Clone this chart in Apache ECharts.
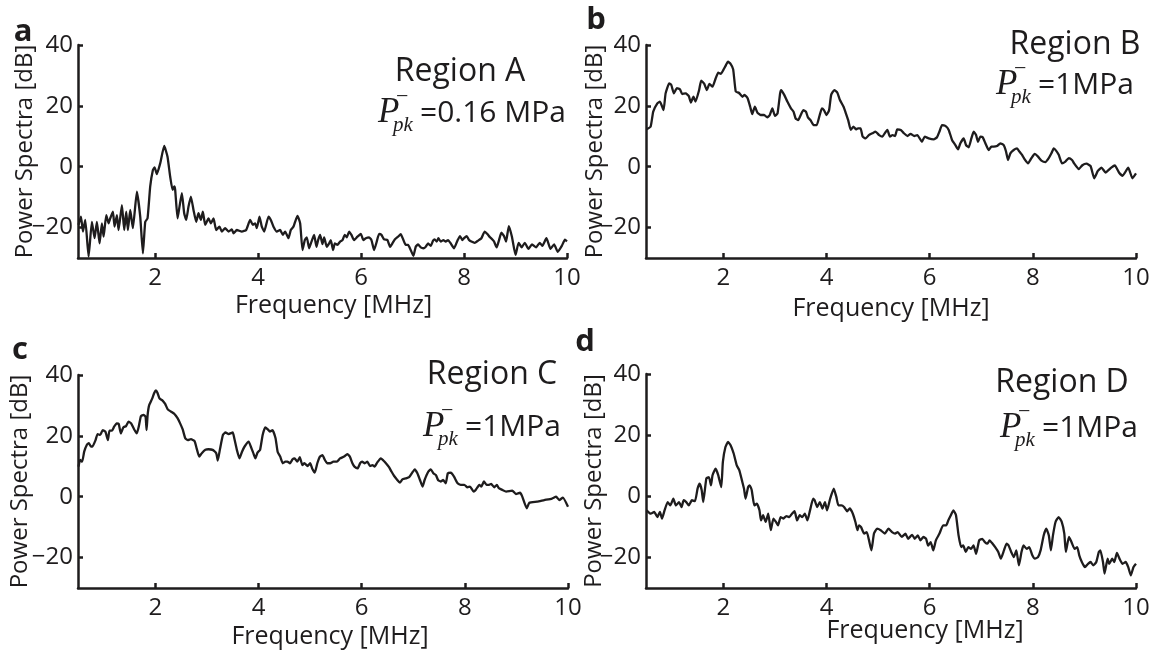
<!DOCTYPE html>
<html>
<head>
<meta charset="utf-8">
<script src="https://cdn.jsdelivr.net/npm/echarts@6/dist/echarts.min.js"></script>
<style>
  html, body { margin: 0; padding: 0; background: #fff; }
  #chart { width: 1176px; height: 660px; }
</style>
</head>
<body>
<div id="chart"></div>
<script>
// tick positions shared by all four panels
const freqTicks = [2, 4, 6, 8, 10];
const powerTicks = [-20, 0, 20, 40];

// panel a - Region A, 0.16 MPa
const freqA = [0.51,0.557,0.596,0.641,0.706,0.77,0.822,0.867,0.919,0.964,0.997,1.049,1.094,1.126,1.178,1.21,1.256,1.288,1.353,1.398,1.437,1.469,1.515,1.566,1.644,1.709,1.761,1.806,1.851,1.903,1.955,1.987,2.032,2.097,2.175,2.239,2.291,2.337,2.369,2.388,2.434,2.472,2.518,2.563,2.602,2.647,2.693,2.744,2.796,2.841,2.887,2.926,2.971,3.036,3.081,3.133,3.184,3.249,3.294,3.359,3.424,3.489,3.521,3.586,3.683,3.767,3.845,3.896,3.942,3.974,4.026,4.071,4.117,4.201,4.246,4.298,4.362,4.427,4.479,4.524,4.589,4.634,4.686,4.718,4.764,4.816,4.861,4.906,4.945,4.99,5.036,5.087,5.133,5.165,5.204,5.249,5.282,5.333,5.379,5.411,5.456,5.489,5.54,5.592,5.638,5.683,5.722,5.767,5.812,5.864,5.929,5.994,6.045,6.091,6.155,6.201,6.252,6.304,6.35,6.395,6.447,6.511,6.563,6.608,6.654,6.718,6.77,6.822,6.867,6.913,6.964,7.016,7.061,7.107,7.159,7.21,7.256,7.301,7.353,7.398,7.43,7.469,7.502,7.547,7.599,7.644,7.689,7.741,7.806,7.871,7.922,7.968,8.0,8.052,8.097,8.142,8.207,8.272,8.337,8.401,8.453,8.505,8.55,8.583,8.634,8.68,8.725,8.777,8.816,8.87,8.93,9.0,9.06,9.12,9.18,9.25,9.32,9.4,9.47,9.52,9.6,9.68,9.75,9.82,9.9,9.96,10.0];
const powerA = [-19.1,-16.4,-21.3,-17.5,-29.5,-18.1,-23.5,-18.1,-25.2,-18.6,-23.0,-15.9,-18.6,-17.0,-14.8,-19.7,-15.9,-20.8,-12.6,-20.8,-14.8,-20.8,-14.2,-20.2,-8.2,-16.4,-28.5,-18.1,-17.0,-6.5,-1.1,-0.2,-2.4,1.1,6.8,3.3,-3.3,-7.6,-6.5,-7.6,-17.0,-13.1,-8.7,-15.3,-17.5,-13.1,-9.8,-14.2,-18.1,-15.3,-17.5,-14.8,-19.1,-17.0,-18.6,-17.0,-20.8,-19.7,-21.3,-20.2,-21.3,-20.6,-21.9,-20.8,-21.3,-20.8,-17.5,-19.1,-18.6,-20.2,-16.4,-19.7,-21.3,-16.4,-17.5,-19.7,-21.3,-20.8,-22.4,-21.3,-23.5,-20.8,-19.7,-18.1,-16.2,-18.6,-27.4,-24.1,-23.2,-26.8,-24.6,-22.4,-26.3,-24.1,-22.4,-25.4,-23.2,-26.3,-25.2,-24.1,-27.4,-25.2,-25.7,-24.6,-24.1,-22.4,-23.2,-21.3,-22.4,-24.1,-23.0,-22.1,-24.1,-23.5,-23.2,-24.1,-27.4,-24.6,-22.1,-22.4,-23.9,-24.1,-26.3,-25.2,-23.9,-23.0,-22.2,-24.1,-25.7,-25.7,-27.4,-29.3,-26.3,-25.5,-26.5,-26.8,-26.3,-25.2,-26.0,-24.3,-23.9,-24.6,-23.5,-24.6,-24.1,-24.6,-24.1,-25.2,-26.8,-24.3,-22.8,-24.1,-23.5,-22.8,-24.1,-24.6,-25.0,-24.3,-23.5,-21.3,-22.1,-23.2,-23.9,-24.6,-26.5,-24.1,-21.7,-22.8,-24.6,-19.5,-23.0,-29.0,-25.0,-26.5,-25.0,-27.0,-25.5,-26.5,-25.0,-26.0,-23.5,-27.0,-25.5,-28.0,-26.0,-24.0,-24.5];

// panel b - Region B, 1 MPa
const freqB = [0.51,0.59,0.64,0.72,0.77,0.84,0.88,0.95,0.99,1.04,1.1,1.16,1.2,1.27,1.33,1.37,1.42,1.46,1.53,1.57,1.63,1.68,1.73,1.79,1.85,1.9,1.95,2.0,2.05,2.09,2.14,2.19,2.24,2.3,2.37,2.41,2.47,2.52,2.56,2.61,2.66,2.72,2.79,2.85,2.9,2.95,3.0,3.05,3.1,3.12,3.18,3.24,3.31,3.36,3.4,3.45,3.5,3.55,3.6,3.64,3.69,3.75,3.81,3.86,3.91,3.95,4.0,4.05,4.09,4.15,4.21,4.26,4.33,4.37,4.42,4.47,4.52,4.57,4.61,4.66,4.7,4.76,4.82,4.89,4.95,5.02,5.08,5.15,5.18,5.23,5.28,5.33,5.37,5.44,5.5,5.57,5.63,5.7,5.76,5.85,5.903,5.981,6.078,6.142,6.188,6.239,6.304,6.369,6.433,6.498,6.55,6.595,6.66,6.705,6.757,6.808,6.853,6.899,6.937,6.983,7.028,7.08,7.144,7.196,7.241,7.306,7.37,7.435,7.48,7.519,7.564,7.629,7.694,7.739,7.791,7.842,7.907,7.972,8.036,8.101,8.166,8.243,8.308,8.36,8.405,8.45,8.502,8.566,8.631,8.696,8.76,8.8,8.89,8.96,9.04,9.12,9.19,9.26,9.33,9.41,9.52,9.59,9.67,9.74,9.85,9.93,10.0];
const powerB = [12.3,13.2,18.1,20.8,21.4,18.6,24.1,27.4,26.9,24.1,25.8,25.4,23.9,24.1,23.2,21.1,23.0,21.4,25.2,28.3,27.2,25.2,27.2,26.3,29.0,30.9,30.5,31.8,33.4,34.5,33.8,32.0,24.7,24.3,23.0,23.6,22.5,19.7,17.3,19.7,17.8,17.0,17.0,16.2,17.0,19.2,16.7,17.5,24.1,25.2,23.6,21.4,19.2,18.1,15.9,15.3,17.0,18.6,18.1,16.2,15.3,13.7,13.7,16.5,19.2,18.6,17.0,18.6,23.6,25.2,24.3,21.9,19.7,17.8,15.3,12.1,13.2,12.3,12.6,12.6,9.9,9.3,10.4,11.0,11.5,10.4,9.9,11.5,12.1,9.9,10.4,10.1,12.3,12.1,11.0,10.1,10.8,10.1,10.4,8.2,9.9,9.3,9.0,9.7,11.5,13.7,13.4,12.1,8.8,7.1,5.7,7.7,9.3,7.1,6.4,9.3,11.5,10.4,8.2,9.9,9.7,7.7,5.5,6.6,6.6,6.8,7.7,7.1,5.0,2.2,4.4,5.5,6.0,5.0,3.9,2.4,1.1,2.8,4.2,3.3,2.0,1.5,2.8,4.4,6.0,5.3,3.9,1.1,1.7,2.8,2.2,1.1,-0.8,0.5,1.0,0.2,-3.8,-1.4,-0.3,-1.9,-0.3,0.4,-1.9,-3.0,-0.3,-3.8,-2.2];

// panel c - Region C, 1 MPa
const freqC = [0.51,0.54,0.58,0.62,0.67,0.71,0.75,0.78,0.84,0.88,0.93,0.98,1.03,1.08,1.11,1.16,1.2,1.25,1.29,1.33,1.38,1.43,1.48,1.53,1.59,1.64,1.68,1.72,1.77,1.81,1.83,1.85,1.88,1.94,1.98,2.01,2.04,2.08,2.14,2.19,2.24,2.3,2.37,2.43,2.48,2.53,2.58,2.63,2.69,2.76,2.8,2.85,2.9,2.97,3.03,3.11,3.18,3.21,3.25,3.31,3.36,3.42,3.5,3.53,3.58,3.63,3.68,3.73,3.81,3.85,3.9,3.94,3.98,4.03,4.08,4.13,4.18,4.22,4.27,4.33,4.37,4.42,4.47,4.52,4.56,4.61,4.66,4.7,4.75,4.8,4.85,4.89,4.95,5.0,5.04,5.09,5.14,5.19,5.24,5.28,5.33,5.39,5.45,5.52,5.58,5.66,5.72,5.77,5.82,5.86,5.92,5.97,6.01,6.06,6.11,6.16,6.21,6.25,6.3,6.37,6.42,6.47,6.53,6.58,6.63,6.69,6.74,6.79,6.85,6.92,6.98,7.03,7.08,7.13,7.18,7.22,7.29,7.34,7.39,7.44,7.48,7.53,7.58,7.63,7.67,7.73,7.79,7.86,7.92,7.99,8.05,8.1,8.17,8.21,8.28,8.32,8.37,8.42,8.47,8.51,8.57,8.62,8.66,8.73,8.8,8.92,8.99,9.07,9.11,9.2,9.25,9.4,9.54,9.69,9.77,9.83,9.9,10.0];
const powerC = [9.9,12.1,11.5,14.8,17.0,17.6,16.5,16.5,18.6,20.6,20.3,21.9,21.4,18.6,21.7,21.7,23.0,24.1,23.9,20.8,22.8,23.2,24.7,24.1,22.1,20.8,23.2,26.5,26.9,26.3,21.9,26.9,30.1,32.3,34.2,34.9,34.2,32.3,31.6,30.5,28.7,28.0,27.2,25.8,24.1,22.1,19.2,18.6,18.9,18.3,15.9,13.2,14.3,15.4,15.6,15.4,14.3,11.9,15.4,20.3,21.1,20.6,21.1,19.2,15.4,12.6,14.8,16.5,18.1,16.5,14.3,12.6,14.5,15.4,20.3,22.8,22.1,21.4,21.9,19.2,14.8,13.2,11.0,11.5,11.5,11.0,12.3,12.6,11.5,13.0,10.4,11.0,10.1,11.0,9.3,7.9,11.0,13.2,13.7,12.3,11.0,11.0,11.5,11.5,12.6,13.2,14.0,13.2,11.0,9.9,9.3,11.0,11.5,11.0,11.5,10.1,10.4,9.9,11.2,12.6,11.9,11.0,9.7,8.2,6.8,5.5,4.6,5.7,6.0,6.4,7.9,9.0,7.7,5.5,3.3,5.5,8.2,9.0,7.7,7.1,5.5,5.0,5.5,4.4,7.7,7.9,6.6,4.4,3.9,3.9,3.1,3.3,1.7,2.2,3.9,3.3,5.0,3.9,3.9,4.2,3.1,3.9,2.8,2.2,1.7,2.0,0.9,1.3,0.2,-3.8,-2.0,-1.6,-1.1,-0.6,0.0,-1.1,-0.3,-3.3];

// panel d - Region D, 1 MPa
const freqD = [0.51,0.59,0.66,0.72,0.77,0.81,0.86,0.92,0.97,1.03,1.08,1.14,1.19,1.23,1.28,1.33,1.39,1.45,1.5,1.54,1.58,1.61,1.67,1.72,1.76,1.79,1.85,1.9,1.96,1.99,2.04,2.09,2.14,2.2,2.26,2.31,2.36,2.4,2.43,2.48,2.51,2.55,2.6,2.65,2.7,2.73,2.77,2.82,2.87,2.92,2.97,3.02,3.06,3.11,3.16,3.22,3.28,3.33,3.38,3.43,3.48,3.53,3.58,3.63,3.68,3.74,3.77,3.82,3.87,3.92,3.97,4.01,4.07,4.14,4.19,4.23,4.29,4.34,4.4,4.45,4.51,4.56,4.6,4.63,4.67,4.73,4.78,4.82,4.87,4.92,4.98,5.05,5.13,5.2,5.27,5.33,5.38,5.46,5.53,5.58,5.66,5.71,5.77,5.82,5.88,5.93,5.97,6.02,6.07,6.12,6.19,6.26,6.32,6.36,6.41,6.46,6.51,6.56,6.61,6.65,6.7,6.75,6.8,6.85,6.9,6.96,7.02,7.07,7.12,7.16,7.22,7.27,7.33,7.38,7.44,7.49,7.53,7.58,7.63,7.68,7.73,7.78,7.82,7.88,7.93,7.99,8.04,8.1,8.15,8.21,8.26,8.31,8.35,8.39,8.44,8.5,8.56,8.61,8.64,8.7,8.75,8.81,8.86,8.9,8.95,9.01,9.07,9.12,9.17,9.23,9.28,9.31,9.36,9.39,9.45,9.48,9.54,9.58,9.63,9.68,9.74,9.8,9.85,9.9,9.95,10.0];
const powerD = [-4.6,-5.7,-5.1,-6.8,-5.1,-7.3,-4.6,-1.9,-3.0,-0.8,-3.0,-1.9,-3.5,-1.3,-1.9,-3.0,-1.3,-1.6,2.5,4.1,2.0,-1.9,5.8,6.3,3.6,6.9,9.0,6.9,3.0,11.2,16.1,17.8,16.7,14.0,10.1,8.5,5.2,2.5,-0.8,3.0,3.6,2.0,-3.0,-2.4,-4.6,-7.9,-6.2,-8.4,-5.7,-11.1,-7.3,-8.4,-9.5,-6.8,-7.3,-6.5,-6.8,-5.7,-4.9,-7.9,-6.2,-6.8,-5.7,-7.9,-4.6,-0.8,-1.3,-3.5,-1.9,-4.0,-1.9,-4.6,-0.8,2.5,-0.2,-3.0,-3.0,-3.5,-4.9,-4.0,-5.7,-8.4,-11.1,-9.5,-10.1,-12.2,-11.7,-14.1,-17.7,-12.2,-10.6,-11.1,-12.2,-10.6,-11.7,-12.2,-11.7,-13.3,-12.2,-13.9,-12.6,-13.9,-12.8,-14.4,-13.3,-13.9,-16.1,-15.0,-17.7,-14.4,-12.2,-9.5,-9.5,-7.9,-6.2,-4.6,-6.2,-12.8,-16.6,-16.1,-18.2,-16.6,-17.2,-16.1,-18.8,-14.4,-13.9,-15.0,-15.5,-14.4,-15.5,-16.6,-18.2,-20.4,-17.7,-15.5,-16.1,-18.2,-19.9,-17.7,-22.6,-18.2,-16.1,-17.2,-16.6,-19.3,-20.4,-19.9,-17.7,-12.8,-10.6,-12.8,-17.7,-12.8,-8.4,-6.8,-8.4,-12.2,-18.2,-13.3,-15.0,-17.2,-16.6,-19.3,-21.5,-23.2,-22.1,-21.5,-22.6,-21.5,-18.2,-17.7,-21.5,-25.3,-20.4,-22.1,-20.4,-21.5,-18.5,-20.4,-22.1,-21.5,-23.2,-25.9,-23.2,-22.1];

const panels = [
  { letter: "a", region: "Region A", value: "=0.16 MPa", freq: freqA, power: powerA },
  { letter: "b", region: "Region B", value: "=1MPa", freq: freqB, power: powerB },
  { letter: "c", region: "Region C", value: "=1MPa", freq: freqC, power: powerC },
  { letter: "d", region: "Region D", value: "=1MPa", freq: freqD, power: powerD }
];

// layout of each panel (pixels)
const boxes = [
  { left: 78, top: 45, width: 489, height: 213, yGap: 41, xGap: 35, xShift: 11,
    letterX: 23, letterY: 32, regionX: 460, regionY: 72, pX: 378, pY: 113 },
  { left: 646, top: 45, width: 490, height: 213, yGap: 39, xGap: 38, xShift: 0,
    letterX: 596, letterY: 20, regionX: 1075, regionY: 45, pX: 996, pY: 85 },
  { left: 78, top: 375, width: 490, height: 213, yGap: 46, xGap: 36, xShift: 7,
    letterX: 20, letterY: 350, regionX: 492, regionY: 375, pX: 423, pY: 427 },
  { left: 646, top: 374, width: 490, height: 214, yGap: 40, xGap: 30, xShift: 34,
    letterX: 585, letterY: 342, regionX: 1062, regionY: 383, pX: 1000, pY: 428 }
];

const ink = "#1e1c1d";
const sans = "'Open Sans', 'Noto Sans', sans-serif";
const serif = "'Liberation Serif', 'DejaVu Serif', serif";

const grids = [], xAxes = [], yAxes = [], series = [], graphics = [];

panels.forEach((p, i) => {
  const b = boxes[i];
  grids.push({ left: b.left, top: b.top, width: b.width, height: b.height, containLabel: false, outerBoundsMode: "none" });
  xAxes.push({
    type: "value", gridIndex: i, min: 0.5, max: 10,
    name: "Frequency [MHz]", nameLocation: "middle", nameGap: b.xGap, nameMoveOverlap: false,
    nameTextStyle: { fontFamily: sans, fontSize: 25, color: ink, padding: [0, 0, 0, b.xShift * 2] },
    axisLine: { show: true, onZero: false, lineStyle: { color: ink, width: 2.5 } },
    axisTick: { show: true, inside: true, length: 5, customValues: freqTicks, lineStyle: { color: ink, width: 2.5 } },
    axisLabel: { show: true, customValues: freqTicks, margin: 8, fontFamily: sans, fontSize: 24, color: ink },
    splitLine: { show: false }
  });
  yAxes.push({
    type: "value", gridIndex: i, min: -30, max: 40,
    name: "Power Spectra [dB]", nameLocation: "middle", nameGap: b.yGap, nameMoveOverlap: false,
    nameTextStyle: { fontFamily: sans, fontSize: 24, color: ink },
    axisLine: { show: true, lineStyle: { color: ink, width: 2.5 } },
    axisTick: { show: true, inside: true, length: 5, customValues: powerTicks, lineStyle: { color: ink, width: 2.5 } },
    axisLabel: {
      show: true, customValues: powerTicks, margin: 5, fontFamily: sans, fontSize: 24, color: ink,
      formatter: v => (v < 0 ? "\u2212" + (-v) : String(v))
    },
    splitLine: { show: false }
  });
  series.push({
    type: "line", xAxisIndex: i, yAxisIndex: i,
    data: p.freq.map((f, k) => [f, p.power[k]]),
    showSymbol: false, smooth: 0.15,
    lineStyle: { color: ink, width: 2.3 },
    silent: true, animation: false
  });

  // panel letter
  graphics.push({
    type: "text", x: b.letterX, y: b.letterY,
    style: { text: p.letter, font: "bold 31px " + sans, fill: ink, align: "center", verticalAlign: "middle" }
  });
  // region title
  graphics.push({
    type: "text", x: b.regionX, y: b.regionY,
    style: { text: p.region, font: "32px " + sans, fill: ink, align: "center", verticalAlign: "middle" }
  });
  // P_pk^- = value
  graphics.push({
    type: "text", x: b.pX, y: b.pY,
    style: { text: "P", font: "italic 35px " + serif, fill: ink, align: "left", verticalAlign: "middle" }
  });
  graphics.push({
    type: "text", x: b.pX + 18, y: b.pY - 16,
    style: { text: "\u2212", font: "22px " + serif, fill: ink, align: "left", verticalAlign: "middle" }
  });
  graphics.push({
    type: "text", x: b.pX + 15, y: b.pY + 12,
    style: { text: "pk", font: "italic 21px " + serif, fill: ink, align: "left", verticalAlign: "middle" }
  });
  graphics.push({
    type: "text", x: b.pX + 42, y: b.pY,
    style: { text: p.value, font: "30px " + sans, fill: ink, align: "left", verticalAlign: "middle" }
  });
});

const chart = echarts.init(document.getElementById("chart"), null, { renderer: "canvas" });
chart.setOption({
  animation: false,
  backgroundColor: "#fff",
  grid: grids,
  xAxis: xAxes,
  yAxis: yAxes,
  series: series,
  graphic: graphics
});
</script>
</body>
</html>
